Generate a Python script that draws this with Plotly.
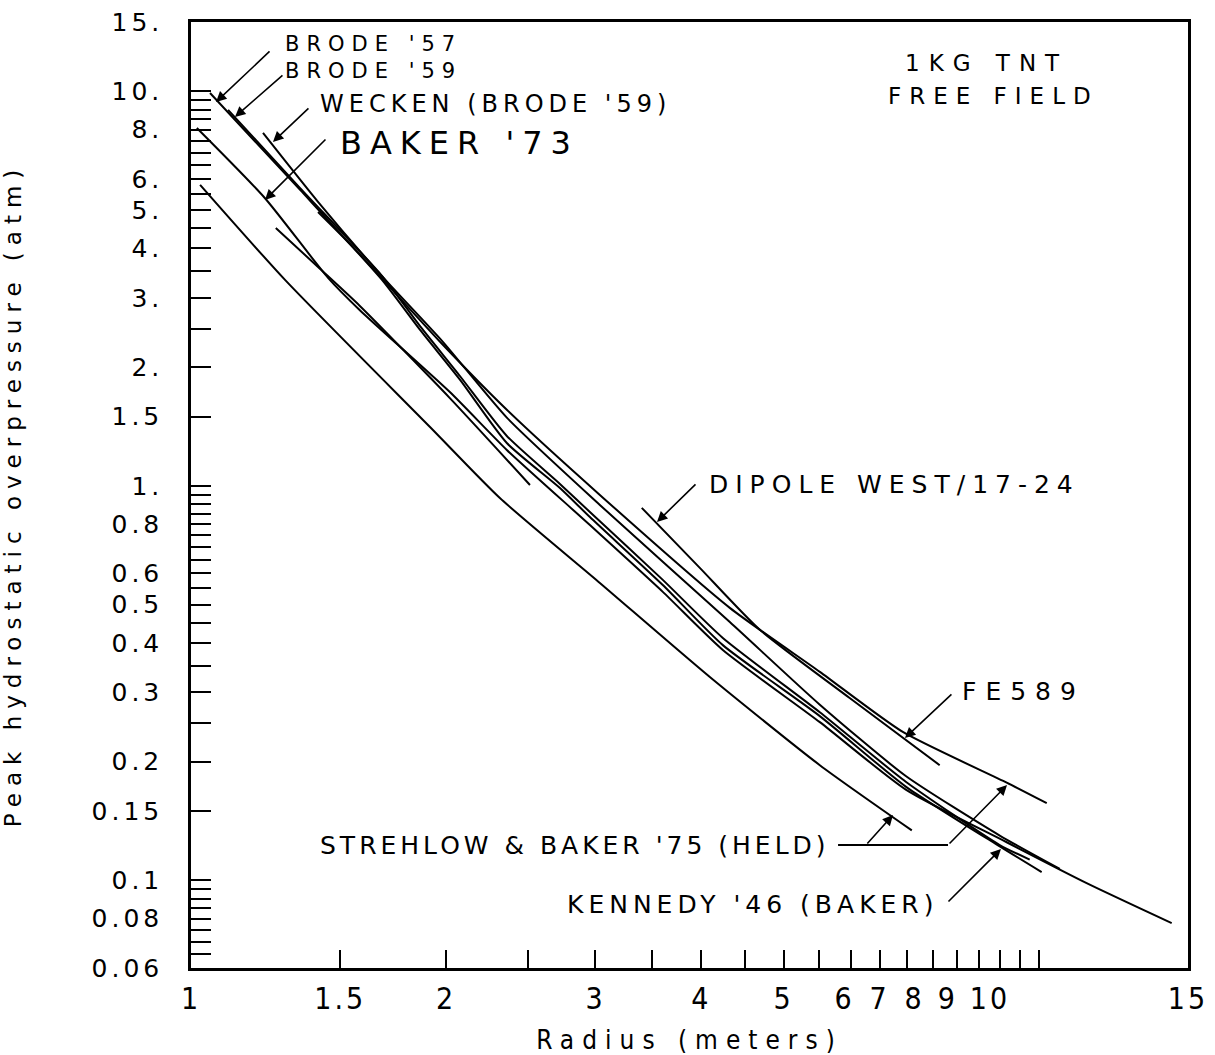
import math
import plotly.graph_objects as go

# ---- data: radius (m) vs peak overpressure (atm) ----
brode57_r = [1.053, 1.345, 1.680, 1.862, 2.076, 2.358, 2.724, 2.955, 3.602, 4.240, 5.518, 6.969, 8.995, 10.08]
brode57_p = [9.91, 5.63, 3.33, 2.49, 1.86, 1.285, 0.988, 0.834, 0.561, 0.395, 0.261, 0.173, 0.122, 0.105]

brode59_r = [1.106, 1.345, 1.680, 1.862, 2.076, 2.358, 2.724, 2.955, 3.602, 4.240, 5.518, 6.969, 8.995, 9.758]
brode59_p = [8.98, 5.69, 3.41, 2.545, 1.90, 1.339, 1.012, 0.859, 0.578, 0.412, 0.267, 0.178, 0.123, 0.113]

wecken_r = [1.216, 1.412, 1.662, 1.982, 2.358, 3.036, 4.321, 5.518, 6.969, 8.995, 10.59]
wecken_p = [7.85, 5.25, 3.49, 2.32, 1.49, 0.895, 0.452, 0.279, 0.184, 0.130, 0.107]

fe589_r = [1.412, 1.548, 1.982, 2.358, 3.036, 4.321, 5.518, 6.913, 9.167, 10.22]
fe589_p = [4.95, 4.06, 2.28, 1.56, 0.949, 0.491, 0.338, 0.238, 0.177, 0.157]

baker73_r = [1.016, 1.222, 1.451, 1.582, 2.020, 2.358, 2.955, 3.602, 4.240, 5.518, 6.969, 9.167, 11.39, 14.35]
baker73_p = [8.08, 5.37, 3.37, 2.79, 1.73, 1.234, 0.796, 0.539, 0.384, 0.252, 0.170, 0.125, 0.0985, 0.078]

kennedy_r = [1.259, 1.412, 1.582, 2.020, 2.511]
kennedy_p = [4.51, 3.59, 2.86, 1.67, 1.006]

strehlow_r = [1.025, 1.291, 1.914, 2.314, 3.036, 4.093, 5.518, 7.084]
strehlow_p = [5.80, 3.33, 1.411, 0.932, 0.568, 0.328, 0.196, 0.134]

dipole_r = [3.402, 3.983, 4.688, 5.984, 7.641]
dipole_p = [0.880, 0.620, 0.432, 0.290, 0.196]

curve_names = ["BRODE '57", "BRODE '59", "WECKEN (BRODE '59)", "FE589", "BAKER '73",
               "KENNEDY '46 (BAKER)", "STREHLOW & BAKER '75 (HELD)", "DIPOLE WEST/17-24"]
curve_r = [brode57_r, brode59_r, wecken_r, fe589_r, baker73_r, kennedy_r, strehlow_r, dipole_r]
curve_p = [brode57_p, brode59_p, wecken_p, fe589_p, baker73_p, kennedy_p, strehlow_p, dipole_p]

# ---- axis ticks ----
# tick marks every 0.5 m
x_tick_marks = [1.5, 2, 2.5, 3, 3.5, 4, 4.5, 5, 5.5, 6, 6.5, 7, 7.5, 8, 8.5, 9, 9.5, 10]
# labels sit where the original figure printed them (6..10 are printed left of their ticks)
x_label_pos = [1, 1.5, 2, 3, 4, 5, 5.9, 6.49, 7.14, 7.81, 8.76, 15]
x_label_text = ["1", "1.5", "2", "3", "4", "5", "6", "7", "8", "9", "10", "15"]

y_tick_vals = [0.06, 0.065, 0.07, 0.075, 0.08, 0.085, 0.09, 0.095, 0.1, 0.15, 0.2, 0.25,
               0.3, 0.35, 0.4, 0.45, 0.5, 0.55, 0.6, 0.65, 0.7, 0.75, 0.8, 0.85, 0.9, 0.95,
               1, 1.5, 2, 2.5, 3, 3.5, 4, 4.5, 5, 5.5, 6, 6.5, 7, 7.5, 8, 8.5, 9, 9.5, 10, 15]
y_tick_text = ["0.06", "", "", "", "0.08", "", "", "", "0.1", "0.15", "0.2", "",
               "0.3", "", "0.4", "", "0.5", "", "0.6", "", "", "", "0.8", "", "", "",
               "1.", "1.5", "2.", "", "3.", "", "4.", "", "5.", "", "6.", "", "", "", "8.", "", "", "", "10.", "15."]


def spaced(s, ls):
    return '<span style="letter-spacing:%dpx">%s</span>' % (ls, s)


fig = go.Figure()
for name, r, p in zip(curve_names, curve_r, curve_p):
    fig.add_trace(go.Scatter(x=r, y=p, mode="lines", name=name,
                             line=dict(color="black", width=2, shape="spline", smoothing=0.6),
                             hoverinfo="skip"))

HAND = "DejaVu Sans"
labels = [
    (spaced("BRODE '57", 7) + "<br>" + spaced("BRODE '59", 7), 0.0923, 0.962, 21, "left"),
    (spaced("WECKEN (BRODE '59)", 5), 0.1274, 0.9133, 24, "left"),
    (spaced("BAKER '73", 8), 0.1474, 0.8721, 32, "left"),
    (spaced("1KG TNT", 9), 0.798, 0.9567, 23, "center"),
    (spaced("FREE FIELD", 8), 0.8054, 0.9218, 23, "center"),
    (spaced("DIPOLE WEST/17-24", 7), 0.5176, 0.5106, 25, "left"),
    (spaced("FE589", 9), 0.7713, 0.2918, 25, "left"),
    (spaced("STREHLOW & BAKER '75 (HELD)", 4), 0.1274, 0.130, 25, "left"),
    (spaced("KENNEDY '46 (BAKER)", 5), 0.3751, 0.0666, 25, "left"),
]
annotations = []
for text, x, y, fs, anchor in labels:
    annotations.append(dict(text=text, x=x, y=y, xref="paper", yref="paper",
                            xanchor=anchor, yanchor="middle", align="left", showarrow=False,
                            font=dict(family=HAND, size=fs, color="black")))

# leader arrows: tip position (paper) and tail offset (px)
arrows = [
    (0.0251, 0.9154, 55, -52),
    (0.0441, 0.8996, 49, -43),
    (0.0822, 0.8732, 37, -35),
    (0.0742, 0.8118, 62, -62),
    (0.4674, 0.4715, 40, -39),
    (0.7161, 0.2431, 48, -45),
    (0.7041, 0.1617, -27, 30),
    (0.8185, 0.1934, -59, 60),
    (0.8124, 0.1258, -54, 54),
]
for x, y, ax, ay in arrows:
    annotations.append(dict(text="", x=x, y=y, xref="paper", yref="paper", ax=ax, ay=ay,
                            axref="pixel", ayref="pixel", showarrow=True, arrowhead=2,
                            arrowsize=1.3, arrowwidth=1.6, arrowcolor="black", standoff=0))

fig.update_layout(
    width=1215, height=1055,
    margin=dict(l=191, r=27, t=22, b=87, autoexpand=False),
    plot_bgcolor="white", paper_bgcolor="white",
    showlegend=False,
    annotations=annotations,
    shapes=[dict(type="line", xref="paper", yref="paper", x0=0.649, x1=0.7593, y0=0.130, y1=0.130,
                 line=dict(color="black", width=2))],
)

XFONT = "Liberation Sans Narrow, DejaVu Sans Condensed, Liberation Sans"
fig.update_xaxes(
    type="log", range=[0, math.log10(15)],
    tickmode="array", tickvals=x_label_pos, ticktext=[spaced(t, 3) for t in x_label_text],
    ticks="", tickangle=0,
    minor=dict(tickmode="array", tickvals=x_tick_marks, ticks="inside", ticklen=18,
               tickwidth=2, tickcolor="black", showgrid=False),
    showline=True, linewidth=2.5, linecolor="black", mirror=True,
    showgrid=False, zeroline=False, automargin=False,
    tickfont=dict(family=XFONT, size=30, color="black"),
    ticklabelstandoff=2,
    title=dict(text=spaced("Radius (meters)", 8), standoff=32,
               font=dict(family=XFONT, size=26, color="black")),
)
fig.update_yaxes(
    type="log", range=[math.log10(0.06), math.log10(15)],
    tickmode="array", tickvals=y_tick_vals, ticktext=[spaced(t, 4) for t in y_tick_text],
    ticks="inside", ticklen=20, tickwidth=2, tickcolor="black",
    showline=True, linewidth=2.5, linecolor="black", mirror=True,
    showgrid=False, zeroline=False, automargin=False,
    tickfont=dict(family="DejaVu Sans", size=25, color="black"),
    ticklabelstandoff=20,
    title=dict(text=spaced("Peak hydrostatic overpressure (atm)", 7), standoff=6,
               font=dict(family="DejaVu Sans", size=23, color="black")),
)

fig.write_html("out.html")
